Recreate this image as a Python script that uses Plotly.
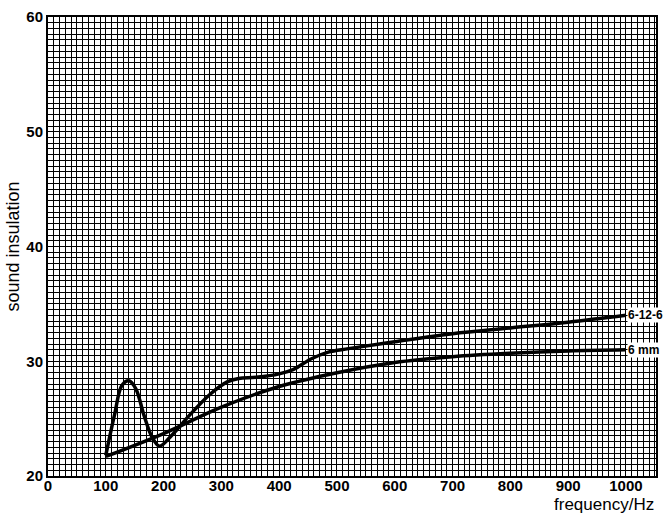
import plotly.graph_objects as go

# data
freq_6mm = [100, 200, 300, 400, 500, 600, 700, 800, 900, 1000]
ins_6mm = [21.7, 23.7, 26.0, 27.8, 29.0, 29.9, 30.4, 30.7, 30.9, 31.0]

freq_6126 = [100, 115, 128, 140, 152, 166, 180, 193, 215, 245, 280, 310, 330,
             360, 400, 425, 455, 485, 520, 600, 700, 800, 900, 1000]
ins_6126 = [21.8, 25.3, 27.9, 28.3, 27.6, 25.3, 23.4, 22.6, 23.6, 25.3, 27.1,
            28.2, 28.5, 28.6, 28.9, 29.3, 30.2, 30.8, 31.1, 31.7, 32.4, 32.9,
            33.4, 34.0]

x_ticks = [0, 100, 200, 300, 400, 500, 600, 700, 800, 900, 1000]
y_ticks = [20, 30, 40, 50, 60]

fig = go.Figure()
fig.add_trace(go.Scatter(x=freq_6mm, y=ins_6mm, mode="lines",
                         line=dict(color="black", width=3.5, shape="spline"),
                         showlegend=False, hoverinfo="skip"))
fig.add_trace(go.Scatter(x=freq_6126, y=ins_6126, mode="lines",
                         line=dict(color="black", width=3.5, shape="spline"),
                         showlegend=False, hoverinfo="skip"))

fig.add_annotation(x=freq_6126[-1], y=ins_6126[-1], text="<b>6-12-6</b>",
                   showarrow=False, xanchor="left", yanchor="middle", xshift=1,
                   bgcolor="white", borderpad=0,
                   font=dict(family="Liberation Sans", size=12, color="black"))
fig.add_annotation(x=freq_6mm[-1], y=ins_6mm[-1], text="<b>6 mm</b>",
                   showarrow=False, xanchor="left", yanchor="middle", xshift=1,
                   bgcolor="white", borderpad=0,
                   font=dict(family="Liberation Sans", size=12, color="black"))
fig.add_annotation(xref="paper", yref="paper", x=1.0, y=-0.036,
                   text="frequency/Hz", showarrow=False, xanchor="right",
                   yanchor="top",
                   font=dict(family="Liberation Sans", size=17, color="black"))

grid = dict(showgrid=True, gridcolor="black", gridwidth=1.2)
tickfont = dict(family="Liberation Sans", size=15, color="black", weight="bold")
fig.update_xaxes(range=[0, 1052], tickvals=x_ticks, ticks="", showline=True,
                 linecolor="black", linewidth=2, mirror=True, zeroline=False,
                 tickfont=tickfont, ticklabelstandoff=-5,
                 minor=dict(dtick=10, showgrid=True, gridcolor="black",
                            gridwidth=1.2), **grid)
fig.update_yaxes(range=[20, 60], tickvals=y_ticks, ticks="", showline=True,
                 linecolor="black", linewidth=2, mirror=True, zeroline=False,
                 title=dict(text="sound insulation", standoff=2,
                            font=dict(family="Liberation Sans", size=18,
                                      color="black")),
                 tickfont=tickfont,
                 minor=dict(dtick=0.5, showgrid=True, gridcolor="black",
                            gridwidth=1.2), **grid)

fig.update_layout(width=666, height=513, margin=dict(l=48, r=8, t=14, b=37),
                  paper_bgcolor="white", plot_bgcolor="white")

fig.write_html("out.html")
